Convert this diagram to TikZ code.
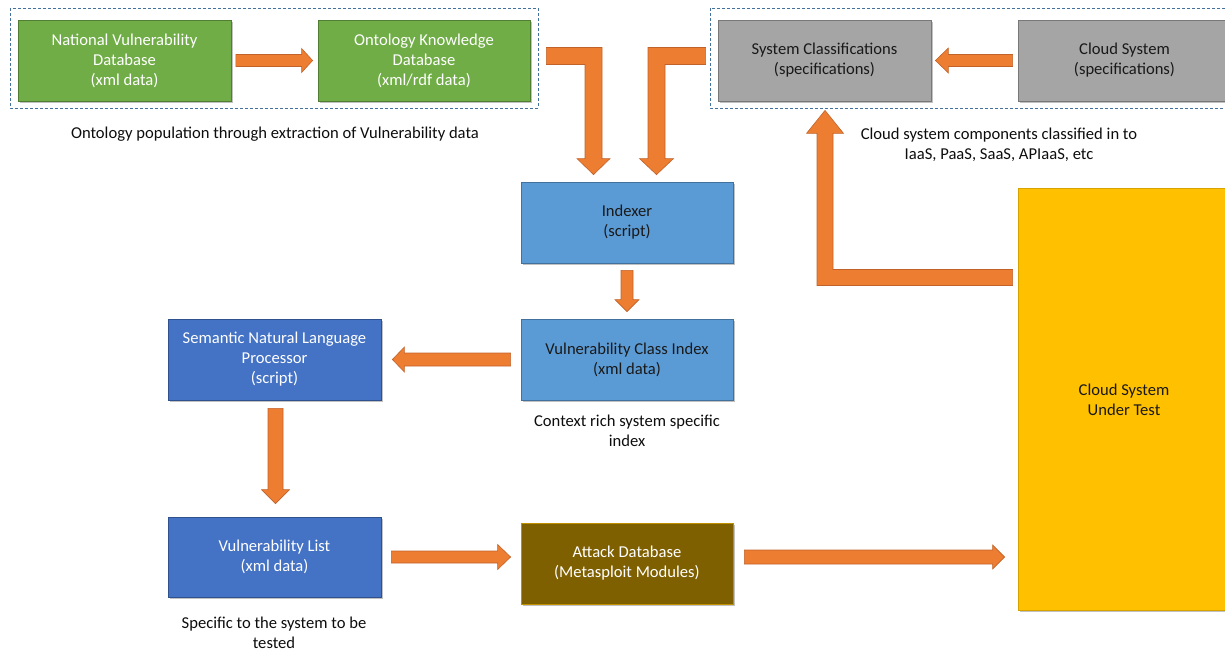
\documentclass[tikz,border=0pt]{standalone}
\usepackage{fontspec}
\setmainfont{Carlito}
\usetikzlibrary{calc,shadows}

\definecolor{nvgreen}{HTML}{70AD47}
\definecolor{nvgreenedge}{HTML}{507E32}
\definecolor{specgray}{HTML}{A5A5A5}
\definecolor{specgrayedge}{HTML}{787878}
\definecolor{lightblue}{HTML}{5B9BD5}
\definecolor{lightblueedge}{HTML}{41719C}
\definecolor{deepblue}{HTML}{4472C4}
\definecolor{deepblueedge}{HTML}{2F528F}
\definecolor{attackbrown}{HTML}{7F6000}
\definecolor{attackedge}{HTML}{BF9000}
\definecolor{sutyellow}{HTML}{FFC000}
\definecolor{sutedge}{HTML}{D6A300}
\definecolor{flow}{HTML}{ED7D31}
\definecolor{flowedge}{HTML}{C0622A}
\definecolor{groupline}{HTML}{41719C}

\tikzset{
  boxfont/.style={font=\fontsize{16.6}{20}\selectfont},
  box/.style={draw, line width=0.8pt, inner sep=0pt, align=center, boxfont,
    minimum width=213pt, minimum height=81pt,
    drop shadow={shadow xshift=1.5pt, shadow yshift=-1.5pt, opacity=0.35, fill=black!70}},
  greenbox/.style={box, fill=nvgreen, draw=nvgreenedge, text=white},
  graybox/.style={box, fill=specgray, draw=specgrayedge, text=black!90},
  lbluebox/.style={box, fill=lightblue, draw=lightblueedge, text=black!90},
  dbluebox/.style={box, fill=deepblue, draw=deepblueedge, text=white},
  brownbox/.style={box, fill=attackbrown, draw=attackedge, text=white},
  caption/.style={boxfont, align=center, text=black!95, inner sep=0pt},
  groupbox/.style={draw=groupline, line width=0.7pt, dash pattern=on 3pt off 2pt},
  flowarrow/.style={fill=flow, draw=flowedge, line width=0.6pt, line join=miter},
}

% straight block arrow: start, tip, shaft half width, head half width, head length
\newcommand\blockarrow[5]{%
  \coordinate (ba-s) at (#1);
  \coordinate (ba-e) at (#2);
  \coordinate (ba-c) at ($(ba-e)!#5!(ba-s)$);
  \filldraw[flowarrow]
    ($(ba-s)!#3!90:(ba-e)$) -- ($(ba-c)!#3!90:(ba-e)$) --
    ($(ba-c)!#4!90:(ba-e)$) -- (ba-e) --
    ($(ba-c)!#4!-90:(ba-e)$) -- ($(ba-c)!#3!-90:(ba-e)$) --
    ($(ba-s)!#3!-90:(ba-e)$) -- cycle;
}

% elbow block arrow: start, tip, horizontal sign, vertical sign (+1 tip above),
% shaft half width, head half width, head length
\newcommand\elbowarrow[7]{%
  \filldraw[flowarrow] let \p1=(#1), \p2=(#2) in
    (\x1, {\y1-(#4)*(#5)}) -- ({\x2+(#3)*(#5)}, {\y1-(#4)*(#5)}) --
    ({\x2+(#3)*(#5)}, {\y2-(#4)*(#7)}) -- ({\x2+(#3)*(#6)}, {\y2-(#4)*(#7)}) --
    (\x2,\y2) --
    ({\x2-(#3)*(#6)}, {\y2-(#4)*(#7)}) -- ({\x2-(#3)*(#5)}, {\y2-(#4)*(#7)}) --
    ({\x2-(#3)*(#5)}, {\y1+(#4)*(#5)}) -- (\x1, {\y1+(#4)*(#5)}) -- cycle;
}

\begin{document}
\begin{tikzpicture}[x=1pt, y=-1pt]
\useasboundingbox (0,0) rectangle (1225,648);

% dashed groupings
\draw[groupbox] (10,8) rectangle (538,108);
\draw[groupbox] (710,8) rectangle (1240,108);

% top row
\node[greenbox] (nvd) at (124.5,60.5) {National Vulnerability\\Database\\(xml data)};
\node[greenbox, minimum width=212pt] (okd) at (424,60.5) {Ontology Knowledge\\Database\\(xml/rdf data)};
\node[graybox] (syscls) at (824.5,60.5) {System Classifications\\(specifications)};
\node[graybox] (cloud) at (1124.5,60.5) {Cloud System\\(specifications)};

% middle column
\node[lbluebox, minimum width=212pt] (idx) at (627,222.5) {Indexer\\(script)};
\node[lbluebox, minimum width=212pt] (vci) at (627,359.5) {Vulnerability Class Index\\(xml data)};

% left column
\node[dbluebox] (snlp) at (274.5,359.5) {Semantic Natural Language\\Processor\\(script)};
\node[dbluebox, minimum height=80pt] (vlist) at (274.5,557) {Vulnerability List\\(xml data)};

% attack database and system under test
\node[brownbox, minimum width=212pt] (attack) at (627,563.5) {Attack Database\\(Metasploit Modules)};
\node[box, fill=sutyellow, draw=sutedge, text=black!90, minimum width=212pt, minimum height=422pt]
  (csut) at (1124,399.5) {Cloud System\\Under Test};

% captions
\node[caption] (cap1) at (275,134.5) {Ontology population through extraction of Vulnerability data};
\node[caption] (cap2) at (999,144.5) {Cloud system components classified in to\\IaaS, PaaS, SaaS, APIaaS, etc};
\node[caption] (cap3) at (627,431) {Context rich system specific\\index};
\node[caption] (cap4) at (274,633) {Specific to the system to be\\tested};

% straight flow arrows
\blockarrow{$(nvd.east)+(4.5,0)$}{$(okd.west)+(-5,0)$}{6pt}{12pt}{11pt}
\blockarrow{$(cloud.west)+(-5,0)$}{$(syscls.east)+(4,0)$}{6pt}{12.5pt}{13pt}
\blockarrow{$(idx.south)+(0,7)$}{$(vci.north)+(0,-7)$}{6pt}{12pt}{12pt}
\blockarrow{$(vci.west)+(-10,0)$}{$(snlp.east)+(11,0)$}{6.5pt}{12.5pt}{12pt}
\blockarrow{$(snlp.south)+(1,8)$}{$(vlist.north)+(1,-13)$}{7.5pt}{14pt}{14pt}
\blockarrow{$(vlist.east)+(10,0)$}{$(attack.west |- vlist.east)+(-10,0)$}{6pt}{12.5pt}{13pt}
\blockarrow{$(attack.east |- vlist.east)+(11,0)$}{$(csut.west |- vlist.east)+(-13,0)$}{7pt}{12pt}{12pt}

% elbow flow arrows
\elbowarrow{$(okd.east)+(16,-4.5)$}{$(idx.north)+(-33.5,-7)$}{1}{-1}{8.5pt}{16.5pt}{16pt}
\elbowarrow{$(syscls.west)+(-12,-4.5)$}{$(idx.north)+(29.5,-7)$}{-1}{-1}{8.5pt}{17pt}{16pt}
\elbowarrow{$(csut.west)+(-5,-122)$}{$(syscls.south)+(0.5,9)$}{-1}{1}{8pt}{18.5pt}{23pt}

\end{tikzpicture}
\end{document}
